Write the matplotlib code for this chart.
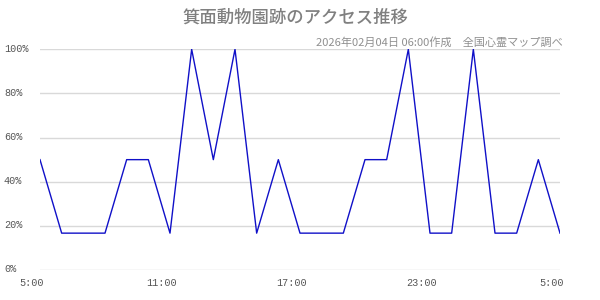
import matplotlib
matplotlib.use("Agg")
import matplotlib.pyplot as plt

hours = list(range(25))
values = [50, 16.7, 16.7, 16.7, 50, 50, 16.7, 100, 50, 100, 16.7, 50,
          16.7, 16.7, 16.7, 50, 50, 100, 16.7, 16.7, 100, 16.7, 16.7, 50, 16.7]
tick_pos = [0, 6, 12, 18, 24]
tick_labels = ["5:00", "11:00", "17:00", "23:00", "5:00"]
yticks = [0, 20, 40, 60, 80, 100]
ytick_labels = ["0%", "20%", "40%", "60%", "80%", "100%"]
title = "箕面動物園跡のアクセス推移"
subtitle = "2026年02月04日 06:00作成　全国心霊マップ調べ"

W, H = 600, 300
fig = plt.figure(figsize=(6, 3), dpi=100)
ax = fig.add_axes([40 / W, 1 - 270 / H, 520 / W, (270 - 49.3) / H])

ax.plot(hours, values, color="#1010c8", lw=1.0, zorder=3)
ax.set_xlim(0, 24)
ax.set_ylim(0, 100)
for s in ax.spines.values():
    s.set_visible(False)
ax.set_yticks(yticks)
ax.set_yticklabels([])
ax.grid(axis="y", color="#d9d9d9", lw=1)
ax.tick_params(axis="both", length=0)
ax.set_xticks(tick_pos)
ax.set_xticklabels([])

mono = ["Liberation Mono", "DejaVu Sans Mono"]
for y, lab in zip(yticks, ytick_labels):
    yp = 1 - (270 - (270 - 49.3) * y / 100 - 0.5) / H
    fig.text(4 / W, yp, lab, ha="left", va="center", fontsize=7.3,
             family=mono, color="#555555")
for x, lab in zip(tick_pos, tick_labels):
    xp = (40 + 520 * x / 24 - 8) / W
    fig.text(xp, 1 - 283 / H, lab, ha="center", va="center", fontsize=7.3,
             family=mono, color="#555555")

cjk = ["Noto Sans CJK JP", "DejaVu Sans"]
fig.text(295 / W, 1 - 18 / H, title, ha="center", va="center", fontsize=12.5,
         family=cjk, color="#808080", fontweight="medium")
fig.text(563 / W, 1 - 42 / H, subtitle, ha="right", va="center", fontsize=8,
         family=cjk, color="#909090")

fig.savefig("out.png", dpi=100)
